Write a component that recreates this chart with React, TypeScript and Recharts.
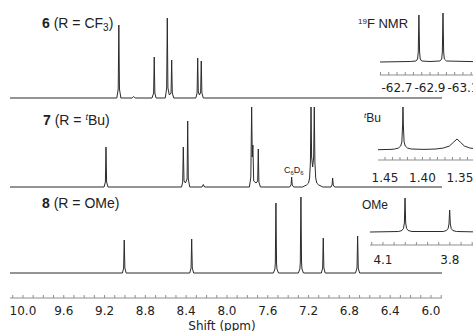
import { LineChart, Line, XAxis, YAxis } from 'recharts';

type Pt = [number, number];

// [shift (ppm), intensity] pairs
const spec6: Pt[] = [
  [10.127, 0],
  [9.08, 0], [9.066, 9], [9.06, 73], [9.054, 9], [9.04, 0],
  [8.93, 0], [8.915, 1.5], [8.9, 0],
  [8.735, 0], [8.719, 5], [8.713, 41], [8.707, 5], [8.695, 0],
  [8.605, 0], [8.591, 10], [8.585, 80], [8.579, 10], [8.565, 3], [8.548, 5], [8.542, 38], [8.536, 5], [8.522, 0],
  [8.305, 0], [8.293, 5], [8.287, 40], [8.281, 6], [8.27, 3], [8.258, 6], [8.252, 37], [8.246, 5], [8.232, 0],
  [5.892, 0],
];

const spec7: Pt[] = [
  [10.127, 0],
  [9.205, 0], [9.192, 5], [9.186, 40], [9.18, 5], [9.166, 0],
  [8.445, 0], [8.434, 5], [8.428, 40], [8.421, 6], [8.407, 4], [8.391, 8], [8.385, 66], [8.379, 8], [8.365, 0],
  [8.245, 0], [8.232, 2.5], [8.22, 0],
  [7.78, 0], [7.766, 10], [7.758, 80], [7.752, 30], [7.746, 42], [7.738, 6], [7.715, 4], [7.699, 6], [7.693, 38], [7.687, 5], [7.672, 0],
  [7.385, 0], [7.372, 2], [7.366, 10], [7.36, 2], [7.346, 0],
  [7.26, 0], [7.22, 2], [7.2, 4], [7.19, 9], [7.182, 25], [7.176, 80], [7.17, 30], [7.16, 20], [7.15, 30], [7.144, 80], [7.138, 25], [7.13, 9], [7.12, 4], [7.1, 2], [7.06, 0],
  [6.98, 0], [6.97, 2], [6.964, 9], [6.958, 2], [6.945, 0],
  [5.892, 0],
];

const spec8: Pt[] = [
  [10.127, 0],
  [9.025, 0], [9.013, 5], [9.007, 33], [9.001, 5], [8.988, 0],
  [8.365, 0], [8.352, 5], [8.346, 34], [8.34, 5], [8.327, 0],
  [7.545, 0], [7.53, 4], [7.526, 10], [7.52, 70], [7.514, 10], [7.51, 4], [7.495, 0],
  [7.3, 0], [7.285, 4], [7.281, 11], [7.275, 76], [7.269, 11], [7.265, 4], [7.25, 0],
  [7.075, 0], [7.062, 5], [7.056, 35], [7.05, 5], [7.037, 0],
  [6.74, 0], [6.725, 5], [6.719, 37], [6.713, 5], [6.7, 0],
  [5.892, 0],
];

// insets
const insetF: Pt[] = [
  [-62.597, 0], [-62.78, 0.5], [-62.815, 1], [-62.825, 3], [-62.829, 10], [-62.833, 47], [-62.837, 10], [-62.841, 3], [-62.85, 1],
  [-62.9, 0.5], [-62.96, 1], [-62.971, 3], [-62.975, 10], [-62.979, 49], [-62.983, 10], [-62.987, 3], [-63.0, 1], [-63.264, 0],
];

const insetTBu: Pt[] = [
  [1.4593, 0.3], [1.442, 0.6], [1.437, 1], [1.432, 2], [1.429, 4], [1.4275, 8], [1.4265, 25], [1.426, 43], [1.4255, 25], [1.4245, 8],
  [1.423, 4], [1.42, 2], [1.415, 1], [1.398, 0.6], [1.382, 1], [1.372, 2], [1.364, 4], [1.359, 7.5], [1.354, 11], [1.349, 7.5],
  [1.344, 4], [1.337, 2], [1.326, 1], [1.3126, 0.5],
];

const insetOMe: Pt[] = [
  [4.158, 0], [4.03, 0.5], [4.015, 1.5], [4.008, 3.5], [4.004, 9], [4.001, 34], [3.998, 9], [3.994, 3.5], [3.987, 1.5], [3.97, 0.5],
  [3.83, 0.5], [3.815, 1.5], [3.808, 3.5], [3.804, 8], [3.801, 22], [3.798, 8], [3.794, 3.5], [3.787, 1.5], [3.77, 0.5], [3.665, 0],
];

const mainLabels = [10.0, 9.6, 9.2, 8.8, 8.4, 8.0, 7.6, 7.2, 6.8, 6.4, 6.0];
const fLabels = [-62.7, -62.9, -63.1];
const tbuLabels = [1.45, 1.4, 1.35];
const omeLabels = [4.1, 3.8];

const LINE = '#2b2b2b';
const AXIS = '#8f8f8f';
const TEXT = '#222';
const AXIS_FONT = 'DejaVu Sans, Verdana, sans-serif';
const LABEL_FONT = 'Liberation Sans, Arial, sans-serif';

const rows = (pts: Pt[]) => pts.map(([ppm, v]) => ({ ppm, v }));

// minor tick positions between two shifts
const steps = (from: number, to: number, step: number) => {
  const out: number[] = [];
  const n = Math.round(Math.abs(from - to) / step);
  for (let i = 0; i <= n; i++) out.push(+(from - i * step * Math.sign(from - to)).toFixed(3));
  return out;
};

const labelFmt = (labels: number[], digits: number) => (v: number) =>
  labels.some((l) => Math.abs(l - v) < 1e-6) ? v.toFixed(digits) : '';

// pad = room on the left so the first tick label is not clipped
function Inset({ data, left, top, width, plotH, domain, yDomain, ticks, labels, digits, margin }: any) {
  const pad = 20;
  return (
    <div style={{ position: 'absolute', left: left - pad, top }}>
      <LineChart width={width + pad} height={5 + plotH + 25} data={rows(data)} margin={{ top: 5, right: 0, bottom: 0, left: pad }}>
        <XAxis
          dataKey="ppm"
          type="number"
          reversed
          domain={domain}
          allowDataOverflow
          ticks={ticks}
          interval={0}
          tickFormatter={labelFmt(labels, digits)}
          height={25}
          stroke={AXIS}
          tickSize={-3}
          tickMargin={margin}
          tick={{ fill: TEXT, fontSize: 12, fontFamily: AXIS_FONT }}
        />
        <YAxis hide domain={yDomain} allowDataOverflow />
        <Line dataKey="v" type="linear" stroke={LINE} strokeWidth={1} dot={false} isAnimationActive={false} />
      </LineChart>
    </div>
  );
}

export default function App() {
  return (
    <div style={{ position: 'fixed', left: 0, top: 0, width: 473, height: 331, overflow: 'hidden', background: '#fff' }}>
      <LineChart width={473} height={331} margin={{ top: 0, right: 31, bottom: 0, left: 10 }}>
        <XAxis
          dataKey="ppm"
          type="number"
          reversed
          domain={[5.892, 10.127]}
          allowDataOverflow
          ticks={steps(10.1, 5.9, 0.1)}
          interval={0}
          tickFormatter={labelFmt(mainLabels, 1)}
          height={33}
          stroke={AXIS}
          tickSize={-3}
          tickMargin={11}
          tick={{ fill: TEXT, fontSize: 12, fontFamily: AXIS_FONT }}
        />
        <YAxis yAxisId="s6" hide domain={[-200, 98]} allowDataOverflow />
        <YAxis yAxisId="s7" hide domain={[-111, 187]} allowDataOverflow />
        <YAxis yAxisId="s8" hide domain={[-25, 273]} allowDataOverflow />
        <Line yAxisId="s6" data={rows(spec6)} dataKey="v" type="linear" stroke={LINE} strokeWidth={1} dot={false} isAnimationActive={false} />
        <Line yAxisId="s7" data={rows(spec7)} dataKey="v" type="linear" stroke={LINE} strokeWidth={1} dot={false} isAnimationActive={false} />
        <Line yAxisId="s8" data={rows(spec8)} dataKey="v" type="linear" stroke={LINE} strokeWidth={1} dot={false} isAnimationActive={false} />
      </LineChart>

      <Inset data={insetF} left={380} top={0} width={110} plotH={70} domain={[-63.264, -62.597]} yDomain={[-13, 57]}
        ticks={steps(-62.6, -63.25, 0.05)} labels={fLabels} digits={1} margin={11} />
      <Inset data={insetTBu} left={378} top={95} width={110} plotH={60} domain={[1.3126, 1.4593]} yDomain={[-10, 50]}
        ticks={steps(1.45, 1.32, 0.01)} labels={tbuLabels} digits={2} margin={16} />
      <Inset data={insetOMe} left={370} top={190} width={110} plotH={50} domain={[3.665, 4.158]} yDomain={[-13, 37]}
        ticks={steps(4.15, 3.7, 0.05)} labels={omeLabels} digits={1} margin={13} />

      <svg width={473} height={331} style={{ position: 'absolute', left: 0, top: 0, pointerEvents: 'none' }}>
        <g fontFamily={LABEL_FONT} fill={TEXT} fontSize={14}>
          <text x={42} y={28}>
            <tspan fontWeight="bold">6</tspan> (R = CF<tspan fontSize={10} dy={3}>3</tspan><tspan dy={-3}>)</tspan>
          </text>
          <text x={43} y={125}>
            <tspan fontWeight="bold">7</tspan> (R = <tspan fontSize={9} dy={-5} fontStyle="italic">t</tspan><tspan dy={5}>Bu)</tspan>
          </text>
          <text x={42} y={208}>
            <tspan fontWeight="bold">8</tspan> (R = OMe)
          </text>
          <text x={358} y={28} fontSize={13}>
            <tspan fontSize={8} dy={-4}>19</tspan><tspan dy={4}>F NMR</tspan>
          </text>
          <text x={364} y={122} fontSize={12}>
            <tspan fontSize={8} dy={-4} fontStyle="italic">t</tspan><tspan dy={4}>Bu</tspan>
          </text>
          <text x={362} y={209} fontSize={12}>OMe</text>
          <text x={284} y={173} fontSize={9}>
            C<tspan fontSize={6} dy={2}>6</tspan><tspan dy={-2}>D</tspan><tspan fontSize={6} dy={2}>6</tspan>
          </text>
        </g>
        <text x={222} y={330} textAnchor="middle" fontFamily={AXIS_FONT} fontSize={12} fill={TEXT}>Shift (ppm)</text>
      </svg>
    </div>
  );
}
